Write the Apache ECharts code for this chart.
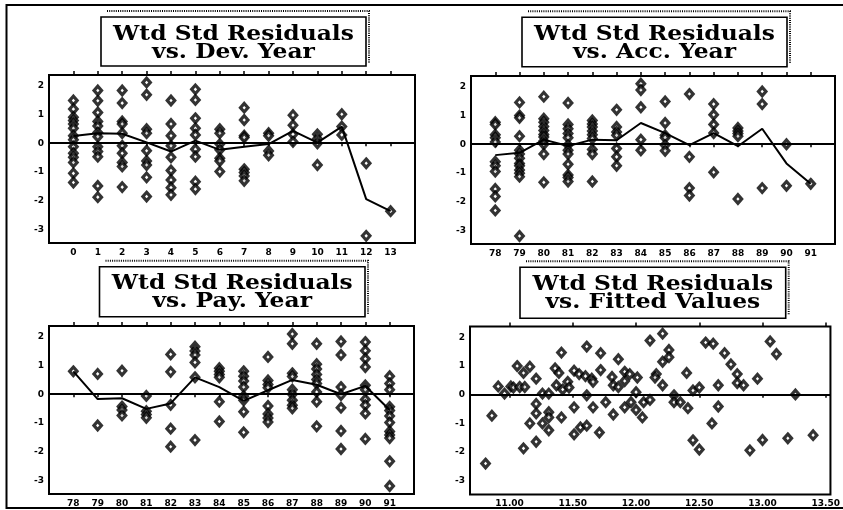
<!DOCTYPE html>
<html>
<head>
<meta charset="utf-8">
<script src="https://cdn.jsdelivr.net/npm/echarts@6/dist/echarts.min.js"></script>
<style>
html,body{margin:0;padding:0;background:#fff;}
#chart{width:843px;height:510px;}
</style>
</head>
<body>
<div id="chart"></div>
<script>
// ---------- DATA ----------
const devYears = [0,1,2,3,4,5,6,7,8,9,10,11,12,13];
const devResiduals = [
  [1.49,1.19,0.91,0.79,0.67,0.52,0.26,0.12,-0.12,-0.35,-0.49,-0.67,-1.05,-1.37],
  [1.84,1.48,1.07,0.76,0.60,0.37,0.23,-0.12,-0.29,-0.47,-1.49,-1.88],
  [1.84,1.40,0.76,0.67,0.35,-0.09,-0.35,-0.67,-0.81,-1.53],
  [2.12,1.69,0.49,0.35,-0.26,-0.62,-0.76,-1.19,-1.86],
  [1.49,0.67,0.26,-0.09,-0.49,-0.95,-1.28,-1.55,-1.80],
  [1.88,1.51,0.87,0.52,0.29,-0.21,-0.47,-1.34,-1.60],
  [0.49,0.35,-0.03,-0.23,-0.52,-0.62,-0.99],
  [1.24,0.81,0.26,0.20,-0.91,-1.02,-1.14,-1.31],
  [0.35,0.26,-0.27,-0.42],
  [0.98,0.63,0.31,0.05],
  [0.31,0.16,0.00,-0.76],
  [1.01,0.58,0.29],
  [-0.70,-3.23],
  [-2.37]
];
const devMeans = [0.25,0.35,0.33,0.03,-0.29,0.09,-0.23,-0.12,-0.03,0.43,0.02,0.58,-1.95,-2.37];

const accYears = [78,79,80,81,82,83,84,85,86,87,88,89,90,91];
const accResiduals = [
  [0.77,0.69,0.33,0.23,0.08,-0.61,-0.75,-0.95,-1.56,-1.82,-2.31],
  [1.46,1.00,0.92,0.28,-0.21,-0.34,-0.49,-0.67,-0.75,-0.90,-1.01,-1.13,-3.20],
  [1.66,0.89,0.77,0.62,0.48,0.34,0.25,0.11,0.00,-0.34,-1.33],
  [1.44,0.69,0.54,0.37,0.23,-0.03,-0.21,-0.34,-0.70,-1.07,-1.16,-1.30],
  [0.83,0.71,0.60,0.46,0.33,0.20,-0.18,-0.34,-1.30],
  [1.20,0.60,0.43,0.31,-0.15,-0.44,-0.75],
  [2.11,1.89,1.29,0.16,-0.21],
  [1.49,0.74,0.31,0.23,-0.03,-0.23],
  [1.75,-0.44,-1.53,-1.79],
  [1.40,1.03,0.69,0.39,-0.98],
  [0.57,0.46,0.37,0.28,-1.91],
  [1.84,1.40,-1.53],
  [0.00,-1.45],
  [-1.38]
];
const accMeans = [-0.38,-0.30,0.16,-0.06,0.16,0.14,0.74,0.39,-0.03,0.39,-0.07,0.54,-0.67,-1.38];

const payYears = [78,79,80,81,82,83,84,85,86,87,88,89,90,91];
const payResiduals = [
  [0.80],
  [0.71,-1.09],
  [0.82,-0.43,-0.55,-0.74],
  [-0.06,-0.59,-0.71,-0.82],
  [1.39,0.78,-0.37,-1.20,-1.83],
  [1.66,1.51,1.37,1.11,0.59,-1.60],
  [0.91,0.80,0.69,0.59,-0.26,-0.95],
  [0.80,0.63,0.46,0.25,-0.07,-0.21,-0.61,-1.33],
  [1.30,0.48,0.34,0.23,-0.41,-0.69,-0.83,-0.97],
  [2.10,1.76,0.73,0.62,0.16,0.00,-0.21,-0.38,-0.49],
  [1.76,1.05,0.88,0.69,0.51,0.37,0.08,-0.26,-1.12],
  [1.84,1.37,0.25,-0.03,-0.47,-1.28,-1.91],
  [1.82,1.52,1.24,0.95,0.31,0.16,-0.18,-0.38,-0.67,-1.56],
  [0.63,0.37,0.16,-0.44,-0.57,-0.76,-0.99,-1.30,-1.42,-1.53,-2.34,-3.20]
];
const payMeans = [0.80,-0.17,-0.14,-0.51,-0.32,0.59,0.25,-0.23,0.14,0.50,0.33,0.00,0.29,-0.55];

const fittedX = [10.81,10.86,10.91,10.96,11.01,11.03,11.06,11.08,11.12,11.11,11.11,11.16,11.16,11.21,11.21,11.21,11.21,11.26,11.26,11.31,11.31,11.31,11.31,11.36,11.37,11.39,11.41,11.41,11.42,11.46,11.47,11.51,11.51,11.51,11.56,11.55,11.61,11.61,11.60,11.61,11.65,11.66,11.66,11.71,11.72,11.72,11.76,11.81,11.82,11.82,11.86,11.86,11.91,11.91,11.91,11.96,11.95,12.00,12.00,
  12.01,12.05,12.06,12.11,12.11,12.16,12.15,12.21,12.21,12.21,12.26,12.26,12.30,12.30,12.35,12.40,12.41,12.45,12.45,12.50,12.50,12.55,12.61,12.60,12.65,12.65,12.70,12.75,12.80,12.80,12.85,12.90,12.96,13.00,13.06,13.11,13.20,13.26,13.40];
const fittedY = [-2.40,-0.73,0.29,0.04,0.29,0.25,1.00,0.27,0.27,0.76,-1.87,0.98,-1.00,0.56,-0.32,-1.64,-0.65,0.04,-1.00,0.04,-0.61,-0.79,-1.24,0.92,0.33,0.76,-0.79,1.47,0.18,0.45,0.25,0.84,-0.44,-1.38,-1.14,0.72,1.68,-0.02,0.65,-1.08,0.56,0.45,-0.44,-1.32,1.45,0.86,-0.26,0.62,0.33,-0.69,1.24,0.27,0.48,-0.44,0.80,-0.26,0.72,0.09,-0.53,
  0.60,-0.79,-0.26,-0.18,1.89,0.72,0.60,2.13,1.15,0.33,1.56,1.31,-0.02,-0.26,-0.26,0.76,-0.47,0.15,-1.59,0.25,-1.91,1.82,1.78,-1.00,0.33,-0.41,1.45,1.06,0.72,0.41,0.33,-1.94,0.56,-1.58,1.86,1.42,-1.52,0.01,-1.41];
const fittedTicks = [11.0,11.5,12.0,12.5,13.0,13.5];
const residTicks = [-3,-2,-1,0,1,2];

const titles = [
  'Wtd Std Residuals\nvs. Dev. Year',
  'Wtd Std Residuals\nvs. Acc. Year',
  'Wtd Std Residuals\nvs. Pay. Year',
  'Wtd Std Residuals\nvs. Fitted Values'
];

// ---------- LAYOUT ----------
const grids = [
  {left:49, top:75, width:366, height:168},
  {left:471, top:76, width:364, height:168},
  {left:49, top:326, width:365, height:168},
  {left:470, top:326.5, width:364, height:168}
];
const boxes = [
  {x:101, y:17, w:265, h:49},
  {x:522, y:17.3, w:265, h:49.4},
  {x:99.5, y:266.7, w:265.5, h:50},
  {x:520, y:267.3, w:265.7, h:51}
];

function flatten(cats, res){
  const out=[];
  cats.forEach((c,i)=>res[i].forEach(v=>out.push([c,v])));
  return out;
}

const labelFont = {fontFamily:'DejaVu Sans', fontWeight:'bold', fontSize:9, color:'#000'};

const xRanges = [
  {min:-1, max:14, ticks:devYears, fmt:v=>String(v)},
  {min:77, max:92, ticks:accYears, fmt:v=>String(v)},
  {min:77, max:92, ticks:payYears, fmt:v=>String(v)},
  {min:10.687, max:13.537, ticks:fittedTicks, fmt:v=>Number(v).toFixed(2)}
];

const xAxes=[], yAxes=[], series=[];
xRanges.forEach((r,i)=>{
  xAxes.push({
    type:'value', gridIndex:i, min:r.min, max:r.max, position:'bottom',
    axisLine:{show:false}, splitLine:{show:false},
    axisTick:{show:true, length:3, customValues:r.ticks, lineStyle:{color:'#000', width:1.5}},
    axisLabel:Object.assign({customValues:r.ticks, margin:5, formatter:r.fmt, showMinLabel:true, showMaxLabel:true, hideOverlap:false}, labelFont)
  });
  xAxes.push({
    type:'value', gridIndex:i, min:r.min, max:r.max, position:'top',
    axisLine:{show:false}, splitLine:{show:false},
    axisTick:{show:true, length:4, customValues:r.ticks, lineStyle:{color:'#000', width:1.5}},
    axisLabel:{show:false}
  });
  yAxes.push({
    type:'value', gridIndex:i, min:-3.48, max:2.38,
    axisLine:{show:false}, splitLine:{show:false}, axisTick:{show:false},
    axisLabel:Object.assign({customValues:residTicks, margin:5}, labelFont)
  });
});

const scatterData = [
  flatten(devYears, devResiduals),
  flatten(accYears, accResiduals),
  flatten(payYears, payResiduals),
  fittedX.map((x,i)=>[x, fittedY[i]])
];
const meanData = [
  devYears.map((x,i)=>[x, devMeans[i]]),
  accYears.map((x,i)=>[x, accMeans[i]]),
  payYears.map((x,i)=>[x, payMeans[i]]),
  null
];

for(let i=0;i<4;i++){
  series.push({
    type:'scatter', xAxisIndex:i*2, yAxisIndex:i, data:scatterData[i],
    symbol:'diamond', symbolSize:[7.5,8.5], silent:true,
    itemStyle:{color:'#fff', borderColor:'#000', borderWidth:3.2},
    markLine:{silent:true, symbol:'none', label:{show:false},
      lineStyle:{color:'#000', width:2, type:'solid'}, data:[{yAxis:0}]},
    z:3
  });
  if(meanData[i]){
    series.push({
      type:'line', xAxisIndex:i*2, yAxisIndex:i, data:meanData[i],
      symbol:'none', lineStyle:{color:'#000', width:2}, z:4, silent:true
    });
  }
}

// title boxes and frame
const graphic=[];
boxes.forEach((b,i)=>{
  graphic.push({type:'polyline', silent:true, z:10,
    shape:{points:[[b.x+6,b.y-6],[b.x+b.w+3,b.y-6],[b.x+b.w+3,b.y+b.h-3]]},
    style:{stroke:'#000', lineWidth:2, lineDash:[1,1.2], fill:null}});
  graphic.push({type:'rect', silent:true, z:11,
    shape:{x:b.x, y:b.y, width:b.w, height:b.h},
    style:{fill:'#fff', stroke:'#000', lineWidth:1.6}});
  graphic.push({type:'text', silent:true, z:12,
    x:b.x+b.w/2, y:b.y+26.5, scaleX:1.17,
    style:{text:titles[i], fontFamily:'DejaVu Serif', fontWeight:'bold', fontSize:20,
      lineHeight:18, align:'center', verticalAlign:'middle', fill:'#000'}});
});
graphic.push({type:'polyline', silent:true, z:20,
  shape:{points:[[843,5],[6.5,5],[6.5,508],[843,508]]},
  style:{stroke:'#000', lineWidth:2, fill:null}});

const chart = echarts.init(document.getElementById('chart'), null, {renderer:'canvas'});
chart.setOption({
  animation:false,
  backgroundColor:'#fff',
  grid:grids.map(g=>Object.assign({show:true, borderColor:'#000', borderWidth:2, backgroundColor:'transparent', containLabel:false}, g)),
  xAxis:xAxes,
  yAxis:yAxes,
  series:series,
  graphic:graphic
});
</script>
</body>
</html>
